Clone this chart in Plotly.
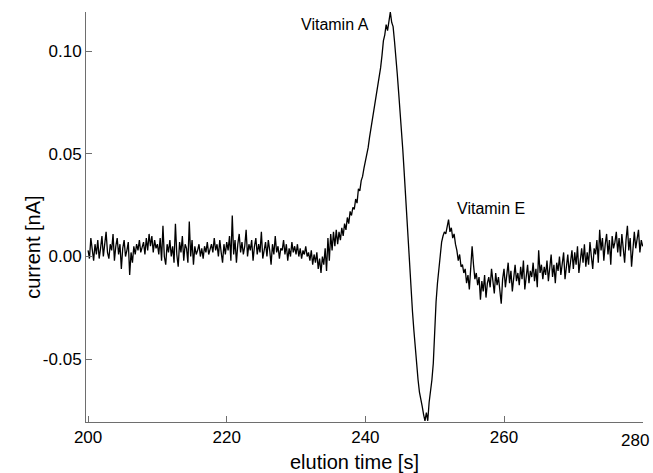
import plotly.graph_objects as go

# Chromatogram sampled every 0.2 s from 200.0 s to 280.0 s
t_start = 200.0
t_step = 0.2

current = [
    # 200.0 - 227.8
    0.003, -0.001, 0.009, 0.002, -0.002, 0.006, 0.001, 0.008, -0.001, 0.004,
    0.010, 0.000, 0.007, 0.012, 0.002, -0.001, 0.006, 0.003, 0.011, -0.002,
    0.005, 0.009, 0.001, 0.006, -0.006, 0.004, 0.008, 0.000, 0.003, 0.007,
    -0.009, 0.002, -0.003, 0.005, 0.001, 0.006, 0.003, 0.008, 0.002, 0.004,
    0.007, 0.001, 0.009, 0.003, 0.011, 0.005, 0.010, 0.002, 0.008, 0.004,
    0.006, 0.001, 0.009, -0.002, 0.015, 0.000, -0.004, 0.006, 0.002, 0.008,
    0.000, 0.005, -0.003, 0.016, 0.001, -0.005, 0.007, 0.002, 0.010, -0.002,
    0.006, 0.004, -0.003, 0.017, 0.000, 0.008, -0.004, 0.005, 0.001, 0.003,
    0.006, 0.000, 0.004, -0.001, 0.005, 0.002, 0.007, 0.001, 0.004, 0.006,
    0.002, 0.009, 0.003, 0.006, 0.000, 0.008, 0.002, -0.003, 0.006, 0.001,
    0.007, 0.003, 0.010, -0.002, 0.020, 0.001, 0.008, -0.003, 0.006, 0.011,
    0.002, 0.007, 0.001, 0.005, 0.013, 0.000, 0.006, 0.003, 0.008, -0.002,
    0.005, 0.009, 0.001, 0.006, 0.002, 0.012, -0.001, 0.004, 0.007, 0.000,
    0.008, 0.003, -0.004, 0.006, 0.001, 0.010, 0.002, 0.005, -0.001, 0.004,
    # 228.0 - 235.8
    0.003, 0.008, 0.001, 0.006, -0.002, 0.004, 0.000, 0.007, 0.002, 0.005,
    0.001, 0.006, 0.000, 0.004, -0.001, 0.003, 0.001, 0.005, 0.000, 0.002,
    -0.002, 0.003, -0.004, 0.001, -0.003, 0.002, -0.006, -0.001, -0.008, 0.000,
    -0.004, 0.004, -0.007, 0.009, -0.002, 0.011, 0.003, 0.012, 0.005, 0.013,
    # 236.0 - 259.8
    0.006, 0.012, 0.008, 0.014, 0.010, 0.016, 0.013, 0.019, 0.016, 0.022,
    0.020, 0.024, 0.023, 0.028, 0.026, 0.033, 0.032, 0.037, 0.039, 0.043,
    0.046, 0.050, 0.053, 0.058, 0.062, 0.066, 0.071, 0.075, 0.080, 0.083,
    0.088, 0.092, 0.098, 0.105, 0.108, 0.113, 0.110, 0.116, 0.119, 0.114,
    0.112, 0.105, 0.098, 0.089, 0.080, 0.072, 0.062, 0.052, 0.041, 0.029,
    0.018, 0.006, -0.006, -0.017, -0.027, -0.036, -0.045, -0.053, -0.060, -0.066,
    -0.069, -0.073, -0.077, -0.080, -0.076, -0.080, -0.071, -0.066, -0.060, -0.052,
    -0.033, -0.022, -0.013, -0.005, 0.002, 0.007, 0.010, 0.012, 0.011, 0.015,
    0.018, 0.012, 0.014, 0.009, 0.011, 0.006, 0.003, -0.002, 0.001, -0.005,
    -0.004, -0.008, -0.006, -0.013, -0.009, -0.016, -0.006, 0.005, -0.004, -0.011,
    -0.008, -0.014, -0.010, -0.021, -0.012, -0.017, -0.009, -0.020, -0.013, -0.010,
    -0.015, -0.006, -0.012, -0.018, -0.008, -0.014, -0.010, -0.016, -0.023, -0.011,
    # 260.0 - 280.0
    -0.006, -0.015, -0.009, -0.003, -0.013, -0.007, -0.017, -0.010, -0.004, -0.012,
    -0.008, -0.014, -0.005, -0.011, -0.002, -0.016, -0.009, -0.004, -0.013, -0.007,
    -0.010, -0.003, -0.012, -0.006, -0.015, 0.003, -0.008, -0.004, -0.011, -0.005,
    -0.009, -0.002, -0.012, -0.006, 0.001, -0.010, -0.004, -0.013, -0.003, -0.007,
    0.000, -0.009, -0.004, 0.002, -0.011, -0.005, 0.001, -0.008, -0.002, 0.003,
    -0.006, 0.002, -0.004, 0.005, -0.008, 0.000, 0.004, -0.003, 0.006, -0.005,
    0.002, -0.004, 0.007, 0.000, -0.006, 0.004, 0.001, 0.008, -0.003, 0.013,
    0.003, 0.009, -0.002, 0.006, 0.011, 0.001, 0.008, -0.004, 0.010, 0.004,
    0.007, 0.012, 0.002, 0.009, 0.000, 0.011, 0.005, -0.003, 0.008, 0.015,
    0.003, 0.009, -0.005, 0.006, 0.012, 0.004, 0.010, 0.013, 0.002, 0.008,
    0.005,
]

x_ticks = [200, 220, 240, 260, 280]
x_tick_text = ["200", "220", "240", "260", "280"]
y_ticks = [-0.05, 0.00, 0.05, 0.10]
y_tick_text = ["-0.05", "0.00", "0.05", "0.10"]

peak_labels = ["Vitamin A", "Vitamin E"]
peak_label_x = [235.6, 258.1]
peak_label_y = [0.1128, 0.0236]

FONT = "Liberation Sans, Arial, sans-serif"
AXIS_COLOR = "#6e6e6e"

fig = go.Figure()
fig.add_trace(go.Scatter(
    x0=t_start, dx=t_step, y=current,
    mode="lines",
    line=dict(color="black", width=1.3),
    showlegend=False,
))

for txt, xx, yy in zip(peak_labels, peak_label_x, peak_label_y):
    fig.add_annotation(x=xx, y=yy, text=txt, showarrow=False,
                       font=dict(family=FONT, size=16, color="black"))

# the last x tick label is pulled inside the page, as in the reference
shown_x_text = x_tick_text[:-1] + [""]
fig.add_annotation(x=x_ticks[-1], xref="x", yref="paper", y=0, yshift=-18,
                   xanchor="right", yanchor="middle", xshift=8,
                   text=x_tick_text[-1], showarrow=False,
                   font=dict(family=FONT, size=17, color="black"))

# axis titles placed as paper annotations
fig.add_annotation(xref="paper", yref="paper", x=0.482, y=0, yshift=-40,
                   text="elution time [s]", showarrow=False,
                   xanchor="center", yanchor="middle",
                   font=dict(family=FONT, size=20, color="black"))
fig.add_annotation(xref="paper", yref="paper", x=0, xshift=-53, y=0.425,
                   text="current [nA]", showarrow=False, textangle=-90,
                   xanchor="center", yanchor="middle",
                   font=dict(family=FONT, size=20, color="black"))

fig.update_layout(
    template="none",
    width=653, height=473,
    margin=dict(l=86, r=10, t=12, b=51, autoexpand=False),
    paper_bgcolor="white", plot_bgcolor="white",
    font=dict(family=FONT, color="black"),
)
fig.update_xaxes(
    range=[199.7, 280.05], automargin=False,
    tickvals=x_ticks, ticktext=shown_x_text, ticklabeloverflow="allow",
    ticks="inside", ticklen=6, tickcolor=AXIS_COLOR, tickwidth=1,
    showline=True, linecolor=AXIS_COLOR, linewidth=1,
    showgrid=False, zeroline=False, mirror=False,
    tickfont=dict(family=FONT, size=17, color="black"),
)
fig.update_yaxes(
    range=[-0.0806, 0.1191], automargin=False,
    tickvals=y_ticks, ticktext=y_tick_text, ticklabeloverflow="allow",
    ticks="inside", ticklen=6, tickcolor=AXIS_COLOR, tickwidth=1,
    showline=True, linecolor=AXIS_COLOR, linewidth=1,
    showgrid=False, zeroline=False, mirror=False,
    tickfont=dict(family=FONT, size=17, color="black"),
)

fig.write_html(
    "out.html",
    config={"displayModeBar": False},
    post_script="document.body.style.margin='0';document.body.style.overflow='hidden';",
)
